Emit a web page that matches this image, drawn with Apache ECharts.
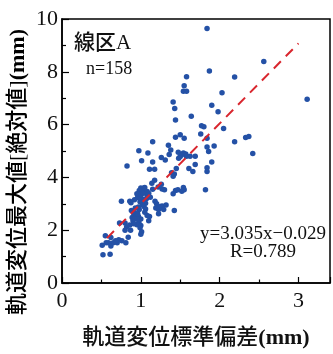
<!DOCTYPE html>
<html>
<head>
<meta charset="utf-8">
<script src="https://cdn.jsdelivr.net/npm/echarts@6/dist/echarts.min.js"></script>
<style>
html,body{margin:0;padding:0;background:#fff;}
#c{width:333px;height:354px;}
</style>
</head>
<body>
<div id="c"></div>
<script>
// ---- data ----
const xValues = [
  1.84,2.56,1.87,1.58,2.19,1.55,1.54,1.58,2.03,1.41,3.11,1.43,1.90,1.98,1.64,1.44,1.77,1.80,2.05,1.50,
  1.44,1.55,1.76,1.84,1.15,2.19,2.33,2.37,1.35,0.975,1.09,1.38,1.84,1.93,1.86,1.26,1.31,1.36,1.01,1.15,
  1.475,1.54,1.57,1.50,1.58,1.625,1.69,1.90,2.42,0.825,1.11,1.175,1.45,1.61,1.66,1.84,1.84,1.39,1.425,1.41,
  1.175,1.14,1.26,1.00,1.04,0.98,1.02,1.05,1.08,1.27,1.30,1.44,1.47,1.54,1.55,1.52,1.41,1.82,1.10,1.08,
  0.975,1.01,1.07,0.96,0.99,1.04,1.06,0.754,0.86,0.875,1.18,1.20,1.02,0.97,1.04,0.98,1.27,1.32,1.19,1.225,
  1.225,1.425,1.08,1.11,0.88,0.91,0.89,0.93,0.90,0.97,1.00,0.975,0.95,1.00,0.99,1.01,1.00,0.73,0.80,0.82,
  0.80,0.87,0.84,0.55,0.62,0.59,0.65,0.70,0.72,0.76,0.81,0.51,0.56,0.52,0.61,1.22,0.95,1.00,1.25,1.29,
  1.06,0.93,0.925,0.95,1.10,0.91,1.52,1.48,1.69,1.03,0.92,1.12,0.96,1.05,0.86,0.68,0.62,1.15
];
const yValues = [
  9.64,8.39,8.03,7.81,7.80,7.47,7.26,7.26,7.21,6.86,6.96,6.61,6.73,6.49,6.32,6.17,5.96,5.92,5.85,5.62,
  5.52,5.48,5.64,5.48,5.35,5.35,5.51,5.55,5.22,5.01,4.92,5.04,5.15,5.19,4.98,4.75,4.66,4.87,4.63,4.58,
  4.95,4.92,4.89,4.79,4.80,4.80,4.80,4.58,4.91,4.43,4.31,4.31,4.34,4.34,4.22,4.37,4.22,4.18,4.13,4.04,
  3.89,3.78,3.74,3.60,3.60,3.50,3.47,3.62,3.47,3.56,3.53,3.50,3.53,3.62,3.53,3.48,3.38,3.53,3.40,3.32,
  3.29,3.20,3.19,3.24,3.08,3.08,3.02,3.10,3.10,3.04,3.10,3.00,2.96,2.88,2.90,2.78,2.92,2.95,2.84,2.78,
  2.62,2.75,2.56,2.52,2.75,2.56,2.48,2.44,2.36,2.52,2.42,2.30,2.21,2.18,2.09,1.94,1.85,2.27,2.27,2.12,
  2.00,2.00,1.73,1.79,1.72,1.52,1.52,1.52,1.64,1.60,1.52,1.43,1.52,1.07,1.09,3.64,3.38,3.35,2.90,2.78,
  2.80,2.84,2.66,2.42,2.36,2.24,4.86,4.73,4.49,3.40,3.15,3.25,2.62,2.68,2.20,1.60,1.40,3.55
];
const fitSlope = 3.035;
const fitIntercept = -0.029;
const fitRange = [0.57, 3.0];
const xTickLabels = ['0','1','2','3'];
const yTickLabels = ['0','2','4','6','8','10'];
const sectionLabel = '線区A';
const countLabel = 'n=158';
const eqLabel = 'y=3.035x\u22120.029';
const rLabel = 'R=0.789';
const xNameMain = '軌道変位標準偏差';
const yNameMain = '軌道変位最大値[絶対値]';
const unitLabel = '(mm)';

// ---- build ----
const points = xValues.map((x, i) => [x, yValues[i]]);
const fitLine = fitRange.map(x => [x, fitSlope * x + fitIntercept]);
const FONT = "'Liberation Serif','Noto Sans CJK JP',serif";
const nameRich = {
  k: {fontFamily: FONT, fontSize: 22, fontWeight: 500, color: '#111'},
  m: {fontFamily: FONT, fontSize: 22, fontWeight: 'bold', color: '#111'}
};

const chart = echarts.init(document.getElementById('c'), null, {renderer: 'canvas'});
chart.setOption({
  animation: false,
  backgroundColor: '#fff',
  grid: {left: 62, top: 19, width: 272, height: 278, show: true, borderColor: '#000', borderWidth: 1.5, backgroundColor: 'transparent'},
  xAxis: {
    type: 'value', min: 0, max: 3.4, interval: 1,
    axisLine: {onZero: false, lineStyle: {color: '#000', width: 1.5}},
    axisTick: {inside: true, length: 6, lineStyle: {color: '#000', width: 1.2}},
    minorTick: {show: true, splitNumber: 2, length: 3.5, lineStyle: {color: '#000', width: 1.2}},
    splitLine: {show: false},
    axisLabel: {color: '#111', fontFamily: FONT, fontSize: 22, margin: 7,
      formatter: v => { const i = Math.round(v); return xTickLabels[i] !== undefined && Math.abs(v - i) < 1e-6 ? xTickLabels[i] : ''; }},
    name: '{k|' + xNameMain + '}{m|' + unitLabel + '}', nameLocation: 'middle', nameGap: 44,
    nameTextStyle: {color: '#111', fontFamily: FONT, fontSize: 22, rich: nameRich}
  },
  yAxis: {
    type: 'value', min: 0, max: 10, interval: 2,
    axisLine: {onZero: false, lineStyle: {color: '#000', width: 1.5}},
    axisTick: {inside: true, length: 7, lineStyle: {color: '#000', width: 1.2}},
    minorTick: {show: true, splitNumber: 2, length: 4, lineStyle: {color: '#000', width: 1.2}},
    splitLine: {show: false},
    axisLabel: {color: '#111', fontFamily: FONT, fontSize: 22, margin: 4,
      formatter: v => { const i = Math.round(v / 2); return yTickLabels[i] || ''; }}
  },
  graphic: [
    {type: 'text', left: 74, top: 33, style: {text: sectionLabel, font: "500 21px 'Liberation Serif','Noto Sans CJK JP',serif", fill: '#111'}},
    {type: 'text', left: 86, top: 60, style: {text: countLabel, font: "18px 'Liberation Serif','Noto Sans CJK JP',serif", fill: '#111'}},
    {type: 'text', x: 263, y: 234, style: {text: eqLabel, font: "19px 'Liberation Serif','Noto Sans CJK JP',serif", fill: '#111', align: 'center', verticalAlign: 'middle'}},
    {type: 'text', x: 263, y: 252, style: {text: rLabel, font: "19px 'Liberation Serif','Noto Sans CJK JP',serif", fill: '#111', align: 'center', verticalAlign: 'middle'}},
    {type: 'text', x: 18, y: 172, rotation: Math.PI / 2, style: {
      text: '{k|' + yNameMain + '}{m|' + unitLabel + '}', rich: nameRich,
      align: 'center', verticalAlign: 'middle'}}
  ],
  series: [
    {type: 'scatter', data: points, symbolSize: 5.5, itemStyle: {color: '#2451a6', opacity: 1}, z: 3},
    {type: 'line', data: fitLine, symbol: 'none', lineStyle: {color: '#d9262e', width: 2, type: [10, 7]}, z: 4}
  ]
});
</script>
</body>
</html>
